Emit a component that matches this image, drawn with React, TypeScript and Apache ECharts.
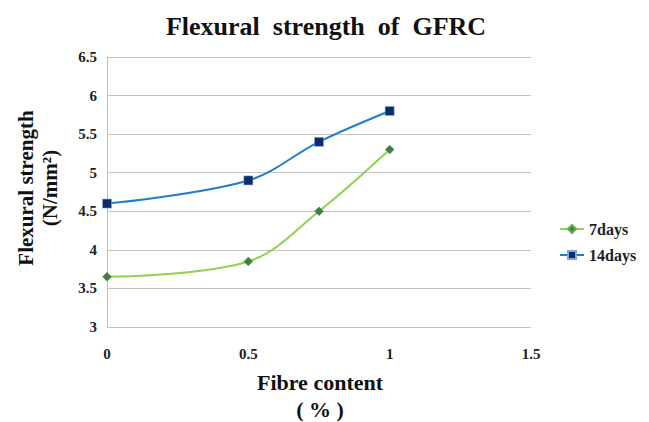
import React, { useEffect, useRef } from "react";
import * as echarts from "echarts";

const xValues = [0, 0.5, 0.75, 1];
const days7 = [3.65, 3.85, 4.5, 5.3];
const days14 = [4.6, 4.9, 5.4, 5.8];
const seriesNames = ["7days", "14days"];
const xTicks = { min: 0, max: 1.5, interval: 0.5 };
const yTicks = { min: 3, max: 6.5, interval: 0.5 };

const SERIF = "'Liberation Serif', 'DejaVu Serif', serif";

export default function App() {
  const ref = useRef<HTMLDivElement>(null);
  useEffect(() => {
    document.body.style.margin = "0";
    const chart = echarts.init(ref.current!, undefined, { renderer: "svg" });
    chart.setOption({
      animation: false,
      title: {
        text: "Flexural  strength  of  GFRC",
        left: 321,
        top: 8,
        textAlign: "center",
        textStyle: { fontFamily: SERIF, fontWeight: "bold", fontSize: 26, color: "#111" },
      },
      legend: {
        orient: "vertical",
        left: 554,
        top: 216,
        itemWidth: 24,
        itemHeight: 10,
        itemGap: 10,
        textStyle: { fontFamily: SERIF, fontWeight: "bold", fontSize: 16, color: "#222" },
        data: seriesNames,
      },
      grid: { left: 107, right: 118, top: 57, bottom: 95 },
      xAxis: {
        type: "value",
        min: xTicks.min,
        max: xTicks.max,
        interval: xTicks.interval,
        axisLine: { show: false },
        axisTick: { show: false },
        splitLine: { show: false },
        axisLabel: {
          margin: 19,
          fontFamily: SERIF,
          fontWeight: "bold",
          fontSize: 15,
          color: "#222",
        },
      },
      yAxis: {
        type: "value",
        min: yTicks.min,
        max: yTicks.max,
        interval: yTicks.interval,
        axisLine: { show: true, lineStyle: { color: "#bdbdbd" } },
        axisTick: { show: false },
        splitLine: { show: true, lineStyle: { color: "#c4c4c4" } },
        axisLabel: {
          margin: 10,
          fontFamily: SERIF,
          fontWeight: "bold",
          fontSize: 15,
          color: "#222",
        },
      },
      graphic: [
        {
          type: "text",
          x: 38,
          y: 188,
          rotation: Math.PI / 2,
          style: {
            text: "Flexural strength\n(N/mm²)",
            textAlign: "center",
            textVerticalAlign: "middle",
            lineHeight: 24,
            fontFamily: SERIF,
            fontWeight: "bold",
            fontSize: 21,
            fill: "#111",
          },
        },
        {
          type: "text",
          x: 320,
          y: 396,
          style: {
            text: "Fibre content\n( % )",
            textAlign: "center",
            textVerticalAlign: "middle",
            lineHeight: 27,
            fontFamily: SERIF,
            fontWeight: "bold",
            fontSize: 22,
            fill: "#111",
          },
        },
      ],
      series: [
        {
          name: seriesNames[0],
          type: "line",
          smooth: 0.35,
          data: xValues.map((x, i) => [x, days7[i]]),
          symbol: "diamond",
          symbolSize: 9,
          lineStyle: { color: "#92d050", width: 2 },
          itemStyle: { color: "#3d7f3d", borderColor: "#6aa84f", borderWidth: 0.5 },
        },
        {
          name: seriesNames[1],
          type: "line",
          smooth: 0.35,
          data: xValues.map((x, i) => [x, days14[i]]),
          symbol: "rect",
          symbolSize: 9,
          lineStyle: { color: "#1f7fcf", width: 2 },
          itemStyle: { color: "#0c2d6b", borderColor: "#7fa7d8", borderWidth: 0.5 },
        },
      ],
    });
    return () => chart.dispose();
  }, []);
  return <div ref={ref} style={{ width: 649, height: 422 }} />;
}
